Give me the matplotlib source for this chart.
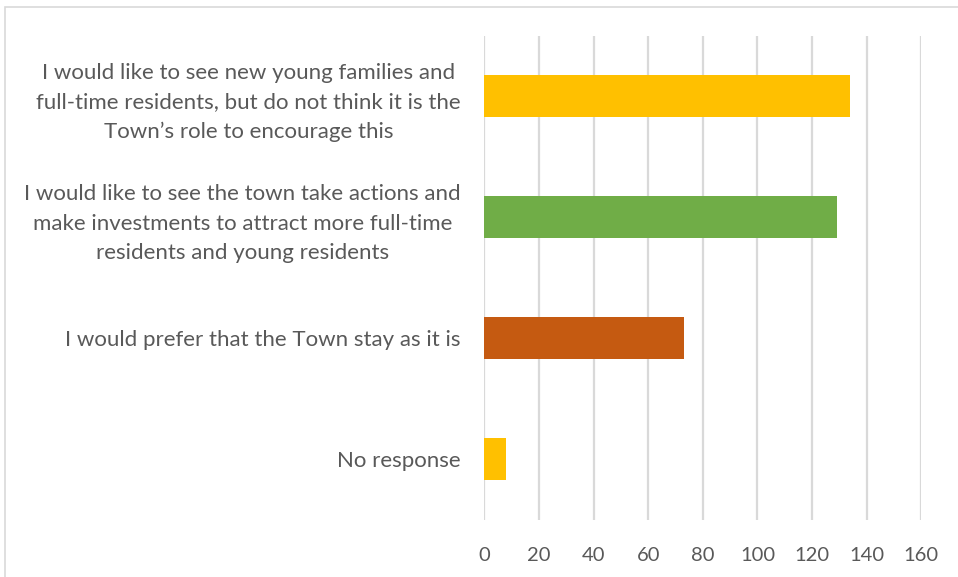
import matplotlib.pyplot as plt
from matplotlib.patches import Rectangle

plt.rcParams['font.family'] = ['Lato', 'DejaVu Sans']

categories = [
    'I would like to see new young families and\nfull-time residents, but do not think it is the\nTown\u2019s role to encourage this',
    'I would like to see the town take actions and\nmake investments to attract more full-time\nresidents and young residents',
    'I would prefer that the Town stay as it is',
    'No response',
]
counts = [134, 129, 73, 8]
colors = ['#FFC000', '#70AD47', '#C55A11', '#FFC000']
xticks = [0, 20, 40, 60, 80, 100, 120, 140, 160]

text_color = '#595959'

fig = plt.figure(figsize=(9.58, 5.77), dpi=100)
ax = fig.add_axes([484.4 / 958, 1 - 519.5 / 577, (921.3 - 484.4) / 958, 484 / 577])

y = list(range(len(categories)))
ax.barh(y, counts, height=0.355, color=colors, zorder=3)
ax.set_ylim(len(categories) - 0.5, -0.5)
ax.set_xlim(0, 160)
ax.set_xticks(xticks)
ax.set_xticklabels([str(t) for t in xticks])
ax.xaxis.grid(True, color='#D9D9D9', linewidth=1.6, zorder=0)
ax.set_yticks(y)
ax.set_yticklabels(categories)
for spine in ax.spines.values():
    spine.set_visible(False)
ax.tick_params(axis='both', length=0, colors=text_color, labelsize=14.5)
ax.tick_params(axis='y', pad=17, labelsize=16)
ax.tick_params(axis='x', pad=20)
for lbl in ax.get_yticklabels():
    lbl.set_multialignment('center')
    lbl.set_linespacing(1.58)

# light chart border
fig.patches.append(Rectangle((4.5 / 958, -0.01), 1.0, 1 - 6.5 / 577 + 0.01,
                             transform=fig.transFigure, fill=False,
                             edgecolor='#D9D9D9', linewidth=1.2))

fig.savefig('out.png', dpi=100)
